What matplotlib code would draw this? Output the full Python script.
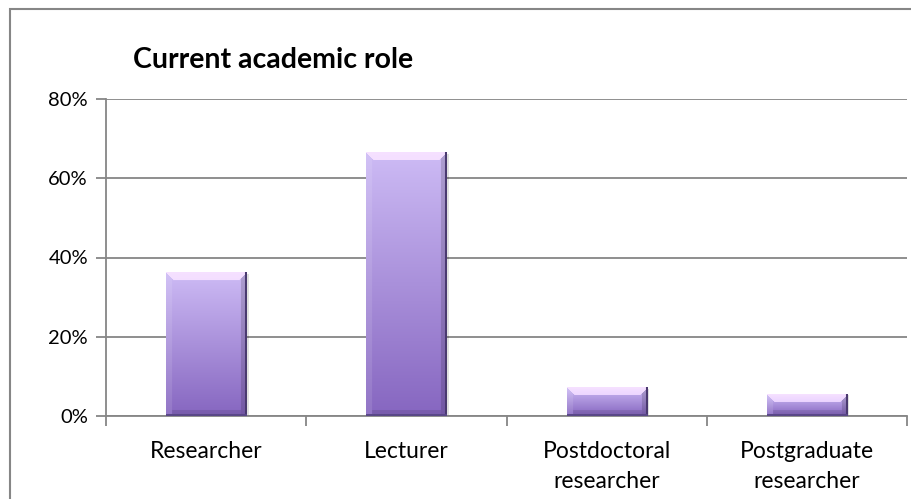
import numpy as np
import matplotlib.pyplot as plt
from matplotlib.patches import Rectangle
from matplotlib.ticker import FuncFormatter

categorias = ["Researcher", "Lecturer", "Postdoctoral\nresearcher", "Postgraduate\nresearcher"]
valores = [36.2, 66.5, 7.2, 5.5]
ticks_y = [0, 20, 40, 60, 80]

plt.rcParams["font.family"] = ["Lato", "DejaVu Sans"]

fig = plt.figure(figsize=(9.11, 4.99), dpi=100)
ax = fig.add_axes([106 / 911, 1 - 416 / 499, 801 / 911, 317 / 499])

# marco exterior del gráfico
fig.patches.append(Rectangle((10 / 911, -0.05), 1.0, 1 - 9 / 499 + 0.05,
                             transform=fig.transFigure, fill=False,
                             edgecolor="#868686", linewidth=1.5))

gris = "#868686"
ax.set_xlim(-0.5, len(categorias) - 0.5)
ax.set_ylim(0, 80)
ax.set_yticks(ticks_y)
ax.yaxis.set_major_formatter(FuncFormatter(lambda v, _: f"{v:.0f}%"))
ax.grid(True, axis="y", color=gris, linewidth=1.3)
ax.set_axisbelow(True)
for lado in ["top", "right"]:
    ax.spines[lado].set_visible(False)
for lado in ["left", "bottom"]:
    ax.spines[lado].set_color(gris)
    ax.spines[lado].set_linewidth(1.3)

ax.set_xticks(np.arange(len(categorias) + 1) - 0.5)
ax.set_xticklabels([])
ax.set_xticks(np.arange(len(categorias)), minor=True)
ax.set_xticklabels(categorias, minor=True, fontsize=16.5)
ax.tick_params(axis="x", which="major", length=7, color=gris, width=1.3)
ax.tick_params(axis="x", which="minor", length=0, pad=18)
ax.tick_params(axis="y", length=7, color=gris, width=1.3, labelsize=14.5, pad=6)
for t in ax.xaxis.get_minor_ticks():
    t.label1.set_verticalalignment("top")
    t.label1.set_linespacing(1.55)


def imagen_barra(h_px, w_px=80, bisel=8):
    arriba = np.array([0xcd, 0xbb, 0xf5]) / 255
    abajo = np.array([0x86, 0x66, 0xc0]) / 255
    t = np.linspace(0, 1, h_px)[:, None, None]
    img = arriba * (1 - t) + abajo * t
    img = np.repeat(img, w_px, axis=1)
    filas, cols = np.mgrid[0:h_px, 0:w_px]
    sup = (filas < bisel) & (cols >= filas) & (cols < w_px - filas)
    img[sup] = img[sup] * 0.45 + np.array([0.6, 0.55, 0.6])
    izq = (cols < 6) & ~sup
    img[izq] = img[izq] * 0.9 + 0.1
    der = (cols >= w_px - 6) & ~sup
    img[der] = img[der] * 0.85
    inf = (filas >= h_px - 6) & ~izq & ~der
    img[inf] = img[inf] * 0.9
    img[:, -2:] = np.array([0x4a, 0x3a, 0x70]) / 255
    img[-2:, :] = np.array([0x5a, 0x48, 0x88]) / 255
    return np.clip(img, 0, 1)


ancho = 0.4
barras = ax.bar(range(len(categorias)), valores, width=ancho, color="none",
                edgecolor="none", zorder=3)
for i, (b, v) in enumerate(zip(barras, valores)):
    # sombra suave a la derecha
    ax.add_patch(Rectangle((i + ancho / 2, 0), 0.012, v - 0.3,
                           facecolor="#000000", alpha=0.12, zorder=2.5,
                           edgecolor="none"))
    h_px = max(int(round(v * 317 / 80)), 4)
    ax.imshow(imagen_barra(h_px), extent=(i - ancho / 2, i + ancho / 2, 0, v),
              aspect="auto", zorder=3, interpolation="bilinear")

ax.set_xlim(-0.5, len(categorias) - 0.5)
ax.set_ylim(0, 80)

fig.text(273 / 911, 1 - 60 / 499, "Current academic role", ha="center",
         va="center", fontsize=20.5, fontweight="bold")

fig.savefig("out.png", dpi=100)
